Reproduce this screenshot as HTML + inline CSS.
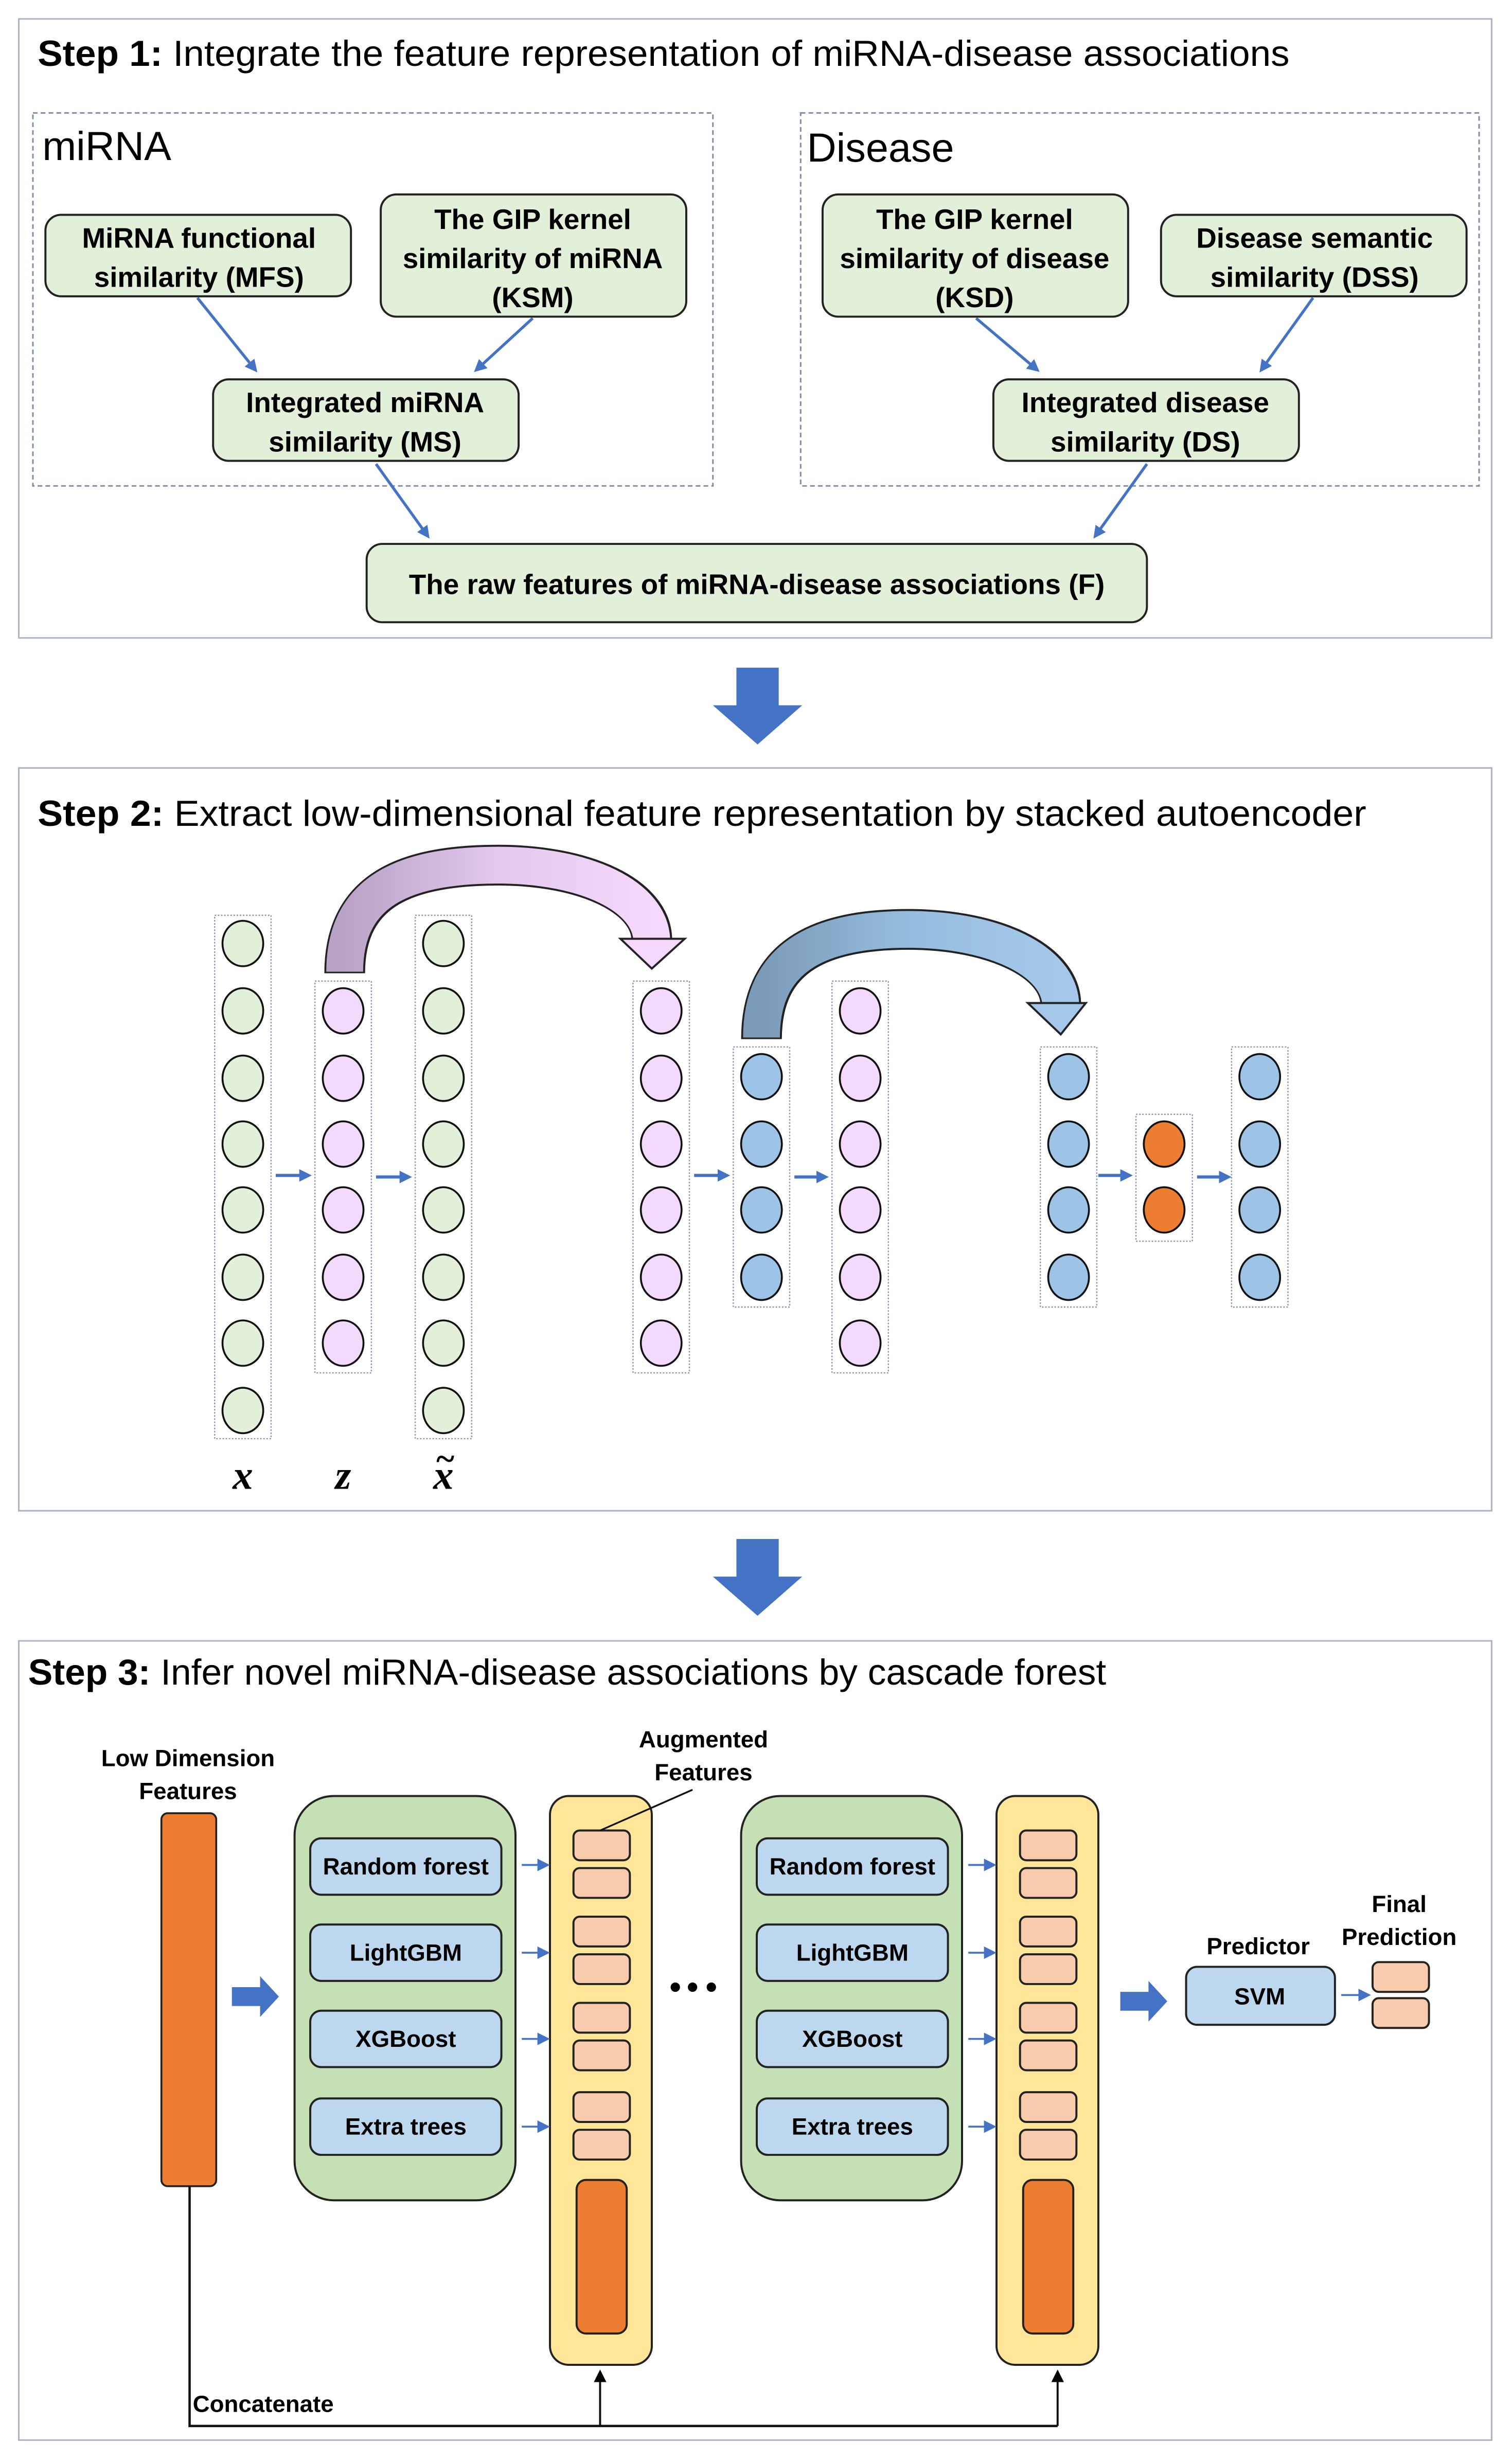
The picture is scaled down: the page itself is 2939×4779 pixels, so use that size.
<!DOCTYPE html>
<html><head><meta charset="utf-8"><style>
html,body{margin:0;padding:0;background:#fff}
svg{display:block}
text{font-family:"Liberation Sans","DejaVu Sans",sans-serif;fill:#000}
.b{font-weight:bold}
</style></head><body>
<svg width="2939" height="4779" viewBox="0 0 965 1569" xmlns="http://www.w3.org/2000/svg">
<defs>
<marker id="ab" markerWidth="8" markerHeight="8" refX="6" refY="4" orient="auto" markerUnits="userSpaceOnUse"><path d="M0,0 L8,4 L0,8 Z" fill="#4472c4"/></marker>
<marker id="ak" markerWidth="8" markerHeight="8" refX="6" refY="4" orient="auto" markerUnits="userSpaceOnUse"><path d="M0,0 L8,4 L0,8 Z" fill="#000"/></marker>
<linearGradient id="g1" x1="0" x2="1" y1="0" y2="0"><stop offset="0" stop-color="#b9a2c6"/><stop offset="0.5" stop-color="#e4c8ee"/><stop offset="1" stop-color="#f5d8fb"/></linearGradient>
<linearGradient id="g2" x1="0" x2="1" y1="0" y2="0"><stop offset="0" stop-color="#7b9bb8"/><stop offset="0.5" stop-color="#96bddf"/><stop offset="1" stop-color="#a5c8ea"/></linearGradient>
</defs>

<!-- STEP 1 -->
<rect x="12" y="12" width="940" height="395" fill="#fff" stroke="#aab4c4" stroke-width="1"/>
<text x="24" y="42" font-size="23" textLength="799" lengthAdjust="spacingAndGlyphs"><tspan class="b">Step 1:</tspan> Integrate the feature representation of miRNA-disease associations</text>
<rect x="21" y="72" width="434" height="238" fill="none" stroke="#8090a8" stroke-width="1" stroke-dasharray="3,2"/>
<rect x="511" y="72" width="433" height="238" fill="none" stroke="#8090a8" stroke-width="1" stroke-dasharray="3,2"/>
<text x="27" y="102" font-size="26">miRNA</text>
<text x="515" y="103" font-size="26">Disease</text>
<g fill="#e2efd9" stroke="#222" stroke-width="1.3">
<rect x="29" y="137" width="195" height="52" rx="10"/>
<rect x="243" y="124" width="195" height="78" rx="10"/>
<rect x="136" y="242" width="195" height="52" rx="10"/>
<rect x="525" y="124" width="195" height="78" rx="10"/>
<rect x="741" y="137" width="195" height="52" rx="10"/>
<rect x="634" y="242" width="195" height="52" rx="10"/>
<rect x="234" y="347" width="498" height="50" rx="10"/>
</g>
<g class="b" font-size="18" text-anchor="middle" font-weight="bold">
<text x="127" y="158">MiRNA functional</text><text x="127" y="183">similarity (MFS)</text>
<text x="340" y="146">The GIP kernel</text><text x="340" y="171">similarity of miRNA</text><text x="340" y="196">(KSM)</text>
<text x="233" y="263">Integrated miRNA</text><text x="233" y="288">similarity (MS)</text>
<text x="622" y="146">The GIP kernel</text><text x="622" y="171">similarity of disease</text><text x="622" y="196">(KSD)</text>
<text x="839" y="158">Disease semantic</text><text x="839" y="183">similarity (DSS)</text>
<text x="731" y="263">Integrated disease</text><text x="731" y="288">similarity (DS)</text>
<text x="483" y="379">The raw features of miRNA-disease associations (F)</text>
</g>
<g stroke="#4472c4" stroke-width="1.8" marker-end="url(#ab)">
<line x1="126" y1="190" x2="163" y2="236"/>
<line x1="340" y1="203" x2="304" y2="236"/>
<line x1="623" y1="203" x2="662" y2="236"/>
<line x1="838" y1="190" x2="805" y2="236"/>
<line x1="240" y1="296" x2="273" y2="342"/>
<line x1="732" y1="296" x2="699" y2="342"/>
</g>

<polygon points="470,426 497,426 497,450 512,450 483.5,475 455,450 470,450" fill="#4472c4"/>
<polygon points="470,982 497,982 497,1006 512,1006 483.5,1031 455,1006 470,1006" fill="#4472c4"/>

<!-- STEP 2 -->
<rect x="12" y="490" width="940" height="474" fill="#fff" stroke="#aab4c4" stroke-width="1"/>
<text x="24" y="527" font-size="23" textLength="848" lengthAdjust="spacingAndGlyphs"><tspan class="b">Step 2:</tspan> Extract low-dimensional feature representation by stacked autoencoder</text>

<path d="M220,621 C220,566 262,552 318,552 C374,552 416,572 416,600" fill="none" stroke="#222" stroke-width="26"/>
<path d="M220,620 C220,566 262,552 318,552 C374,552 416,572 416,601" fill="none" stroke="url(#g1)" stroke-width="23.5"/>
<polygon points="396,599 437,599 416,618" fill="#f5d8fb" stroke="#222" stroke-width="1.3"/>
<path d="M486,663 C486,607 528,593 580,593 C634,593 677,613 677,641" fill="none" stroke="#222" stroke-width="26"/>
<path d="M486,662 C486,607 528,593 580,593 C634,593 677,613 677,642" fill="none" stroke="url(#g2)" stroke-width="23.5"/>
<polygon points="656,640 693,640 677,660" fill="#a5c8ea" stroke="#222" stroke-width="1.3"/>

<g fill="none" stroke="#8a98b0" stroke-width="0.8" stroke-dasharray="1,1">
<rect x="137" y="584" width="36" height="334"/>
<rect x="201" y="626" width="36" height="250"/>
<rect x="265" y="584" width="36" height="334"/>
<rect x="404" y="626" width="36" height="250"/>
<rect x="468" y="668" width="36" height="166"/>
<rect x="531" y="626" width="36" height="250"/>
<rect x="664" y="668" width="36" height="166"/>
<rect x="725" y="711" width="36" height="81"/>
<rect x="786" y="668" width="36" height="166"/>
</g>
<g stroke="#111" stroke-width="1.2">
<g fill="#e2efd9">
<ellipse cx="155" cy="602" rx="13" ry="14.5"/><ellipse cx="155" cy="645" rx="13" ry="14.5"/><ellipse cx="155" cy="688" rx="13" ry="14.5"/><ellipse cx="155" cy="730" rx="13" ry="14.5"/><ellipse cx="155" cy="772" rx="13" ry="14.5"/><ellipse cx="155" cy="815" rx="13" ry="14.5"/><ellipse cx="155" cy="857" rx="13" ry="14.5"/><ellipse cx="155" cy="900" rx="13" ry="14.5"/>
<ellipse cx="283" cy="602" rx="13" ry="14.5"/><ellipse cx="283" cy="645" rx="13" ry="14.5"/><ellipse cx="283" cy="688" rx="13" ry="14.5"/><ellipse cx="283" cy="730" rx="13" ry="14.5"/><ellipse cx="283" cy="772" rx="13" ry="14.5"/><ellipse cx="283" cy="815" rx="13" ry="14.5"/><ellipse cx="283" cy="857" rx="13" ry="14.5"/><ellipse cx="283" cy="900" rx="13" ry="14.5"/>
</g>
<g fill="#f3d9fb">
<ellipse cx="219" cy="645" rx="13" ry="14.5"/><ellipse cx="219" cy="688" rx="13" ry="14.5"/><ellipse cx="219" cy="730" rx="13" ry="14.5"/><ellipse cx="219" cy="772" rx="13" ry="14.5"/><ellipse cx="219" cy="815" rx="13" ry="14.5"/><ellipse cx="219" cy="857" rx="13" ry="14.5"/>
<ellipse cx="422" cy="645" rx="13" ry="14.5"/><ellipse cx="422" cy="688" rx="13" ry="14.5"/><ellipse cx="422" cy="730" rx="13" ry="14.5"/><ellipse cx="422" cy="772" rx="13" ry="14.5"/><ellipse cx="422" cy="815" rx="13" ry="14.5"/><ellipse cx="422" cy="857" rx="13" ry="14.5"/>
<ellipse cx="549" cy="645" rx="13" ry="14.5"/><ellipse cx="549" cy="688" rx="13" ry="14.5"/><ellipse cx="549" cy="730" rx="13" ry="14.5"/><ellipse cx="549" cy="772" rx="13" ry="14.5"/><ellipse cx="549" cy="815" rx="13" ry="14.5"/><ellipse cx="549" cy="857" rx="13" ry="14.5"/>
</g>
<g fill="#9dc3e6">
<ellipse cx="486" cy="687" rx="13" ry="14.5"/><ellipse cx="486" cy="730" rx="13" ry="14.5"/><ellipse cx="486" cy="772" rx="13" ry="14.5"/><ellipse cx="486" cy="815" rx="13" ry="14.5"/>
<ellipse cx="682" cy="687" rx="13" ry="14.5"/><ellipse cx="682" cy="730" rx="13" ry="14.5"/><ellipse cx="682" cy="772" rx="13" ry="14.5"/><ellipse cx="682" cy="815" rx="13" ry="14.5"/>
<ellipse cx="804" cy="687" rx="13" ry="14.5"/><ellipse cx="804" cy="730" rx="13" ry="14.5"/><ellipse cx="804" cy="772" rx="13" ry="14.5"/><ellipse cx="804" cy="815" rx="13" ry="14.5"/>
</g>
<g fill="#ed7d31"><ellipse cx="743" cy="730" rx="13" ry="14.5"/><ellipse cx="743" cy="772" rx="13" ry="14.5"/></g>
</g>
<g stroke="#4472c4" stroke-width="2" marker-end="url(#ab)">
<line x1="176" y1="750" x2="197" y2="750"/><line x1="240" y1="751" x2="261" y2="751"/>
<line x1="443" y1="750" x2="464" y2="750"/><line x1="507" y1="751" x2="527" y2="751"/>
<line x1="701" y1="750" x2="721" y2="750"/><line x1="764" y1="751" x2="784" y2="751"/>
</g>
<g font-style="italic" font-weight="bold" font-size="26" text-anchor="middle">
<text x="155" y="950" style="font-family:'Liberation Serif',serif">x</text>
<text x="219" y="950" style="font-family:'Liberation Serif',serif">z</text>
<text x="283" y="950" style="font-family:'Liberation Serif',serif">x</text>
<text x="284" y="938" style="font-family:'Liberation Serif',serif" font-size="22">~</text>
</g>

<!-- STEP 3 -->
<rect x="12" y="1047" width="940" height="510" fill="#fff" stroke="#aab4c4" stroke-width="1"/>
<text x="18" y="1075" font-size="23" textLength="688" lengthAdjust="spacingAndGlyphs"><tspan class="b">Step 3:</tspan> Infer novel miRNA-disease associations by cascade forest</text>
<g font-size="15" font-weight="bold" text-anchor="middle">
<text x="120" y="1127">Low Dimension</text><text x="120" y="1148">Features</text>
<text x="449" y="1115">Augmented</text><text x="449" y="1136">Features</text>
<text x="803" y="1247">Predictor</text>
<text x="893" y="1220">Final</text><text x="893" y="1241">Prediction</text>
</g>
<rect x="103" y="1157" width="35" height="238" rx="4" fill="#ed7d31" stroke="#222" stroke-width="1.2"/>
<polygon points="148,1268 166,1268 166,1261 178,1274 166,1287 166,1280 148,1280" fill="#4472c4"/>
<polygon points="715,1271 733,1271 733,1264 745,1277 733,1290 733,1283 715,1283" fill="#4472c4"/>

<g stroke="#222" stroke-width="1.3">
<rect x="188" y="1146" width="141" height="258" rx="25" fill="#c5e0b4"/>
<rect x="473" y="1146" width="141" height="258" rx="25" fill="#c5e0b4"/>
<g fill="#bdd7ee">
<rect x="198" y="1173" width="122" height="36" rx="7"/><rect x="198" y="1228" width="122" height="36" rx="7"/><rect x="198" y="1283" width="122" height="36" rx="7"/><rect x="198" y="1339" width="122" height="36" rx="7"/>
<rect x="483" y="1173" width="122" height="36" rx="7"/><rect x="483" y="1228" width="122" height="36" rx="7"/><rect x="483" y="1283" width="122" height="36" rx="7"/><rect x="483" y="1339" width="122" height="36" rx="7"/>
<rect x="757" y="1255" width="95" height="37" rx="7"/>
</g>
<rect x="351" y="1146" width="65" height="363" rx="12" fill="#ffe699"/>
<rect x="636" y="1146" width="65" height="363" rx="12" fill="#ffe699"/>
<g fill="#f8cbad">
<rect x="366" y="1168" width="36" height="19" rx="4"/><rect x="366" y="1192" width="36" height="19" rx="4"/>
<rect x="366" y="1223" width="36" height="19" rx="4"/><rect x="366" y="1247" width="36" height="19" rx="4"/>
<rect x="366" y="1278" width="36" height="19" rx="4"/><rect x="366" y="1302" width="36" height="19" rx="4"/>
<rect x="366" y="1335" width="36" height="19" rx="4"/><rect x="366" y="1359" width="36" height="19" rx="4"/>
<rect x="651" y="1168" width="36" height="19" rx="4"/><rect x="651" y="1192" width="36" height="19" rx="4"/>
<rect x="651" y="1223" width="36" height="19" rx="4"/><rect x="651" y="1247" width="36" height="19" rx="4"/>
<rect x="651" y="1278" width="36" height="19" rx="4"/><rect x="651" y="1302" width="36" height="19" rx="4"/>
<rect x="651" y="1335" width="36" height="19" rx="4"/><rect x="651" y="1359" width="36" height="19" rx="4"/>
<rect x="876" y="1252" width="36" height="19" rx="4"/><rect x="876" y="1275" width="36" height="19" rx="4"/>
</g>
<rect x="368" y="1391" width="32" height="98" rx="6" fill="#ed7d31"/>
<rect x="653" y="1391" width="32" height="98" rx="6" fill="#ed7d31"/>
</g>
<line x1="383" y1="1168" x2="442" y2="1142" stroke="#111" stroke-width="1.1"/>
<g font-size="15" font-weight="bold" text-anchor="middle">
<text x="259" y="1196">Random forest</text><text x="259" y="1251">LightGBM</text><text x="259" y="1306">XGBoost</text><text x="259" y="1362">Extra trees</text>
<text x="544" y="1196">Random forest</text><text x="544" y="1251">LightGBM</text><text x="544" y="1306">XGBoost</text><text x="544" y="1362">Extra trees</text>
<text x="804" y="1279">SVM</text>
</g>
<g stroke="#4472c4" stroke-width="1.2" marker-end="url(#ab)">
<line x1="333" y1="1190" x2="349" y2="1190"/><line x1="333" y1="1246" x2="349" y2="1246"/><line x1="333" y1="1301" x2="349" y2="1301"/><line x1="333" y1="1357" x2="349" y2="1357"/>
<line x1="618" y1="1190" x2="634" y2="1190"/><line x1="618" y1="1246" x2="634" y2="1246"/><line x1="618" y1="1301" x2="634" y2="1301"/><line x1="618" y1="1357" x2="634" y2="1357"/>
<line x1="856" y1="1273" x2="873" y2="1273"/>
</g>
<circle cx="431" cy="1268" r="3" fill="#000"/><circle cx="442" cy="1268" r="3" fill="#000"/><circle cx="454" cy="1268" r="3" fill="#000"/>
<polyline points="121,1395 121,1548 675,1548" fill="none" stroke="#111" stroke-width="1.5"/>
<line x1="383" y1="1548" x2="383" y2="1514" stroke="#111" stroke-width="1.3" marker-end="url(#ak)"/>
<line x1="675" y1="1548" x2="675" y2="1514" stroke="#111" stroke-width="1.3" marker-end="url(#ak)"/>
<text x="123" y="1539" font-size="15" font-weight="bold">Concatenate</text>
</svg>
</body></html>
